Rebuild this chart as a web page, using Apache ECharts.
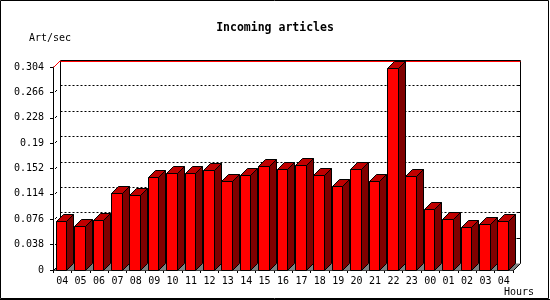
<!DOCTYPE html>
<html>
<head>
<meta charset="utf-8">
<script src="https://cdn.jsdelivr.net/npm/echarts@6/dist/echarts.min.js"></script>
<style>html,body{margin:0;padding:0;background:#fff;}#c{width:550px;height:300px;}</style>
</head>
<body>
<div id="c"></div>
<script>
const hours = ['04','05','06','07','08','09','10','11','12','13','14','15','16','17','18','19','20','21','22','23','00','01','02','03','04'];
const artsPerSec = [0.073, 0.066, 0.075, 0.115, 0.112, 0.139, 0.146, 0.145, 0.150, 0.134, 0.143, 0.156, 0.151, 0.157, 0.142, 0.126, 0.151, 0.134, 0.302, 0.141, 0.091, 0.077, 0.064, 0.069, 0.073];
const yTickLabels = ['0','0.038','0.076','0.114','0.152','0.19','0.228','0.266','0.304'];
const yTickValues = yTickLabels.map(Number);

const DEPTH = 7;
const FONT = 'DejaVu Sans Mono';
const px = v => Math.round(v) + 0.5;

function renderFrame(params, api) {
  const cs = params.coordSys;
  const L = px(cs.x), R = px(cs.x + cs.width), T = px(cs.y), B = px(cs.y + cs.height);
  const d = DEPTH;
  const ch = [];
  ch.push({type:'polygon', shape:{points:[[L,B],[R,B],[R+d,B-d],[L+d,B-d]]}, style:{fill:'#808080'}});
  ch.push({type:'line', shape:{x1:L+d,y1:T-d,x2:L+d,y2:B-d}, style:{stroke:'#000',lineWidth:1}});
  ch.push({type:'line', shape:{x1:R+d,y1:T-d,x2:R+d,y2:B-d}, style:{stroke:'#000',lineWidth:1}});
  ch.push({type:'line', shape:{x1:R,y1:B,x2:R+d,y2:B-d}, style:{stroke:'#000',lineWidth:1}});
  ch.push({type:'line', shape:{x1:L,y1:B,x2:L+d,y2:B-d}, style:{stroke:'#000',lineWidth:1}});
  for (let i = 1; i < yTickValues.length - 1; i++) {
    const y = px(api.coord([0, yTickValues[i]])[1]);
    ch.push({type:'line', shape:{x1:L+d,y1:y-d,x2:R+d,y2:y-d}, style:{stroke:'#000',lineWidth:1,lineDash:[2,2]}});
    ch.push({type:'line', shape:{x1:R+d-3,y1:y-d,x2:R+d,y2:y-d}, style:{stroke:'#000',lineWidth:1}});
    ch.push({type:'line', shape:{x1:L+1.5,y1:y-0.5,x2:L+3.5,y2:y-2.5}, style:{stroke:'#000',lineWidth:1}});
  }
  ch.push({type:'line', shape:{x1:L+d,y1:T-d,x2:R+d,y2:T-d}, style:{stroke:'#000',lineWidth:1}});
  ch.push({type:'line', shape:{x1:L+d,y1:T-d+1,x2:R+d,y2:T-d+1}, style:{stroke:'#ff0000',lineWidth:1}});
  ch.push({type:'line', shape:{x1:L,y1:T,x2:L+d,y2:T-d}, style:{stroke:'#ff0000',lineWidth:1}});
  return {type:'group', children: ch};
}

function renderBar(params, api) {
  const i = api.value(0), v = api.value(1);
  const top = api.coord([i, v]);
  const base = api.coord([i, 0]);
  const bw = api.size([1, 0])[0];
  const d = DEPTH;
  const x0 = px(top[0] - bw / 2 + 0.15 * bw);
  const x1 = px(top[0] - bw / 2 + 0.15 * bw + 0.58 * bw);
  const yt = px(top[1]);
  const yb = px(base[1]);
  const st = {stroke:'#000', lineWidth:1};
  return {type:'group', children:[
    {type:'polygon', shape:{points:[[x1,yt],[x1+d,yt-d],[x1+d,yb-d],[x1,yb]]}, style:Object.assign({fill:'#800000'}, st)},
    {type:'polygon', shape:{points:[[x0,yt],[x0+d,yt-d],[x1+d,yt-d],[x1,yt]]}, style:Object.assign({fill:'#c00000'}, st)},
    {type:'rect', shape:{x:x0, y:yt, width:x1-x0, height:yb-yt}, style:Object.assign({fill:'#ff0000'}, st)}
  ]};
}

const chart = echarts.init(document.getElementById('c'), null, {renderer:'canvas'});
chart.setOption({
  animation: false,
  backgroundColor: '#fff',
  title: {
    text: 'Incoming articles', left: 'center', top: 17,
    textStyle: {fontFamily: FONT, fontWeight: 'bold', fontSize: 11.5, color: '#000'}
  },
  grid: {left: 53, right: 37, top: 67, bottom: 30, containLabel: false},
  xAxis: {
    type: 'category', data: hours, boundaryGap: true,
    axisLine: {show: true, lineStyle: {color: '#000', width: 1}},
    axisTick: {show: true, length: 3, lineStyle: {color: '#000'}},
    axisLabel: {color: '#000', fontFamily: FONT, fontSize: 10, margin: 6, interval: 0},
    splitLine: {show: false}
  },
  yAxis: {
    type: 'value', min: 0, max: 0.304, interval: 0.038,
    axisLine: {show: true, lineStyle: {color: '#000', width: 1}},
    axisTick: {show: true, length: 3, lineStyle: {color: '#000'}},
    axisLabel: {color: '#000', fontFamily: FONT, fontSize: 10, margin: 9,
      formatter: (val, idx) => yTickLabels[idx] !== undefined ? yTickLabels[idx] : String(val)},
    splitLine: {show: false}
  },
  graphic: [
    {type:'rect', shape:{x:0.5, y:0.5, width:548, height:298}, style:{fill:'none', stroke:'#000', lineWidth:1}, z:100},
    {type:'line', shape:{x1:0, y1:299.5, x2:550, y2:299.5}, style:{stroke:'#000', lineWidth:1}, z:100},
    {type:'text', left: 29, top: 33, style:{text:'Art/sec', font:'10px "DejaVu Sans Mono"', fill:'#000'}},
    {type:'text', left: 504, top: 287, style:{text:'Hours', font:'10px "DejaVu Sans Mono"', fill:'#000'}}
  ],
  series: [
    {type:'custom', name:'frame', renderItem: renderFrame, data:[[0, 0]], z: 1, silent: true, clip: false},
    {type:'custom', name:'Art/sec', renderItem: renderBar, data: artsPerSec.map((v, i) => [i, v]), z: 2, clip: false}
  ]
});
</script>
</body>
</html>
